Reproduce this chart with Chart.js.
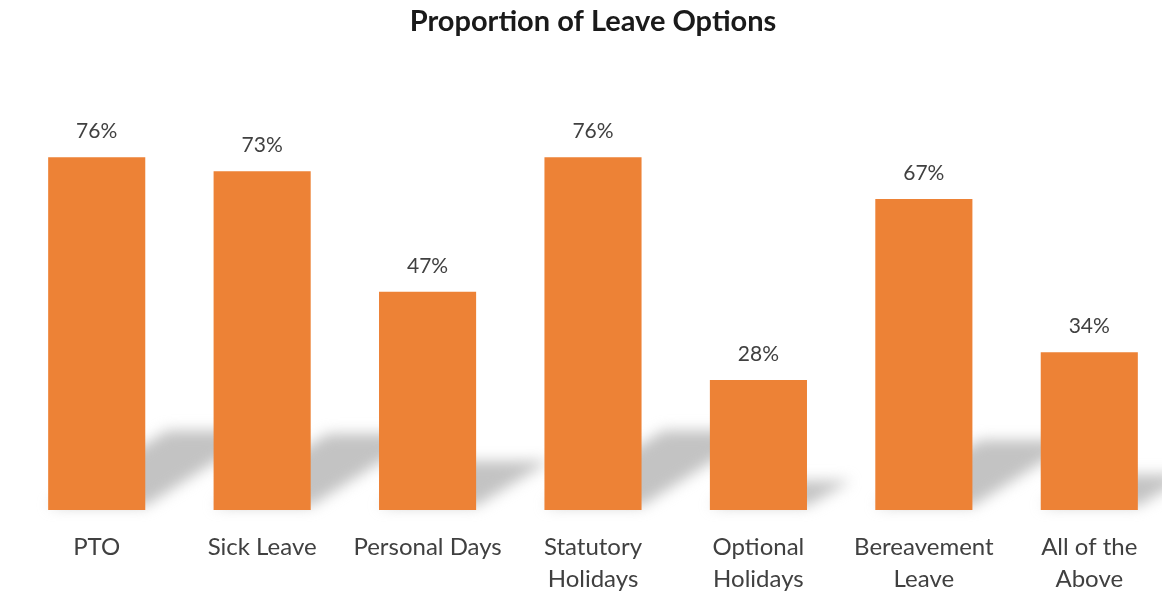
<!DOCTYPE html>
<html>
<head>
<meta charset="utf-8">
<script src="https://cdn.jsdelivr.net/npm/chart.js@4.4.1/dist/chart.umd.min.js"></script>
<style>
  html, body { margin: 0; padding: 0; background: #fff; overflow: hidden; }
  #wrap { width: 1172px; height: 592px; }
</style>
</head>
<body>
<div id="wrap"><canvas id="barChart" width="1172" height="592"></canvas></div>
<script>
// categories and percentages
let categories = [["PTO"], ["Sick Leave"], ["Personal Days"], ["Statutory", "Holidays"], ["Optional", "Holidays"], ["Bereavement", "Leave"], ["All of the", "Above"]]
let percentages = [76, 73, 47, 76, 28, 67, 34]
let y_ticks = [0, 100]

let font_family = "Lato, 'Open Sans', sans-serif"

/** sombra gris inclinada detras de cada barra */
let shadowPlugin = {
  id: "barShadows",
  beforeDatasetsDraw: function(chart) {
    let ctx = chart.ctx
    let meta = chart.getDatasetMeta(0)
    ctx.save()
    ctx.filter = "blur(7px)"
    ctx.fillStyle = "rgba(180, 180, 180, 0.8)"
    meta.data.forEach(function(bar) {
      let h = bar.base - bar.y
      let dy = h * 0.225
      let dx = dy * 1.5
      let x0 = bar.x - bar.width / 2
      let x1 = bar.x + bar.width / 2
      ctx.beginPath()
      ctx.moveTo(x0, bar.base - 4)
      ctx.lineTo(x1, bar.base - 4)
      ctx.lineTo(x1 + dx, bar.base - dy)
      ctx.lineTo(x0 + dx, bar.base - dy)
      ctx.closePath()
      ctx.fill()
    })
    ctx.restore()
  }
}

/** etiquetas de porcentaje encima de las barras */
let labelPlugin = {
  id: "barLabels",
  afterDatasetsDraw: function(chart) {
    let ctx = chart.ctx
    let meta = chart.getDatasetMeta(0)
    ctx.save()
    ctx.fillStyle = "#404040"
    ctx.font = "21px " + font_family
    ctx.textAlign = "center"
    ctx.textBaseline = "middle"
    meta.data.forEach(function(bar, i) {
      ctx.fillText(percentages[i] + "%", bar.x, bar.y - 26)
    })
    ctx.restore()
  }
}

var ctx = document.getElementById("barChart").getContext("2d")
var barChart = new Chart(ctx, {
  type: "bar",
  data: {
    labels: categories,
    datasets: [{
      data: percentages,
      backgroundColor: "#ED8236",
      barPercentage: 0.587,
      categoryPercentage: 1
    }]
  },
  options: {
    responsive: false,
    animation: false,
    layout: { padding: { left: 14, right: 0, top: 0, bottom: 0 } },
    plugins: {
      legend: { display: false },
      tooltip: { enabled: false },
      title: {
        display: true,
        text: "Proportion of Leave Options",
        color: "#1a1a1a",
        font: { family: font_family, size: 29, weight: "bold", lineHeight: 1.2 },
        padding: { top: 4, bottom: 7 }
      }
    },
    scales: {
      x: {
        grid: { display: false },
        border: { display: false },
        ticks: {
          color: "#404040",
          padding: 13,
          maxRotation: 0,
          autoSkip: false,
          font: { family: font_family, size: 24, lineHeight: "32px" }
        },
        afterFit: function(scale) { scale.height = 82 }
      },
      y: {
        display: false,
        min: y_ticks[0],
        max: y_ticks[1]
      }
    }
  },
  plugins: [shadowPlugin, labelPlugin]
})
</script>
</body>
</html>
